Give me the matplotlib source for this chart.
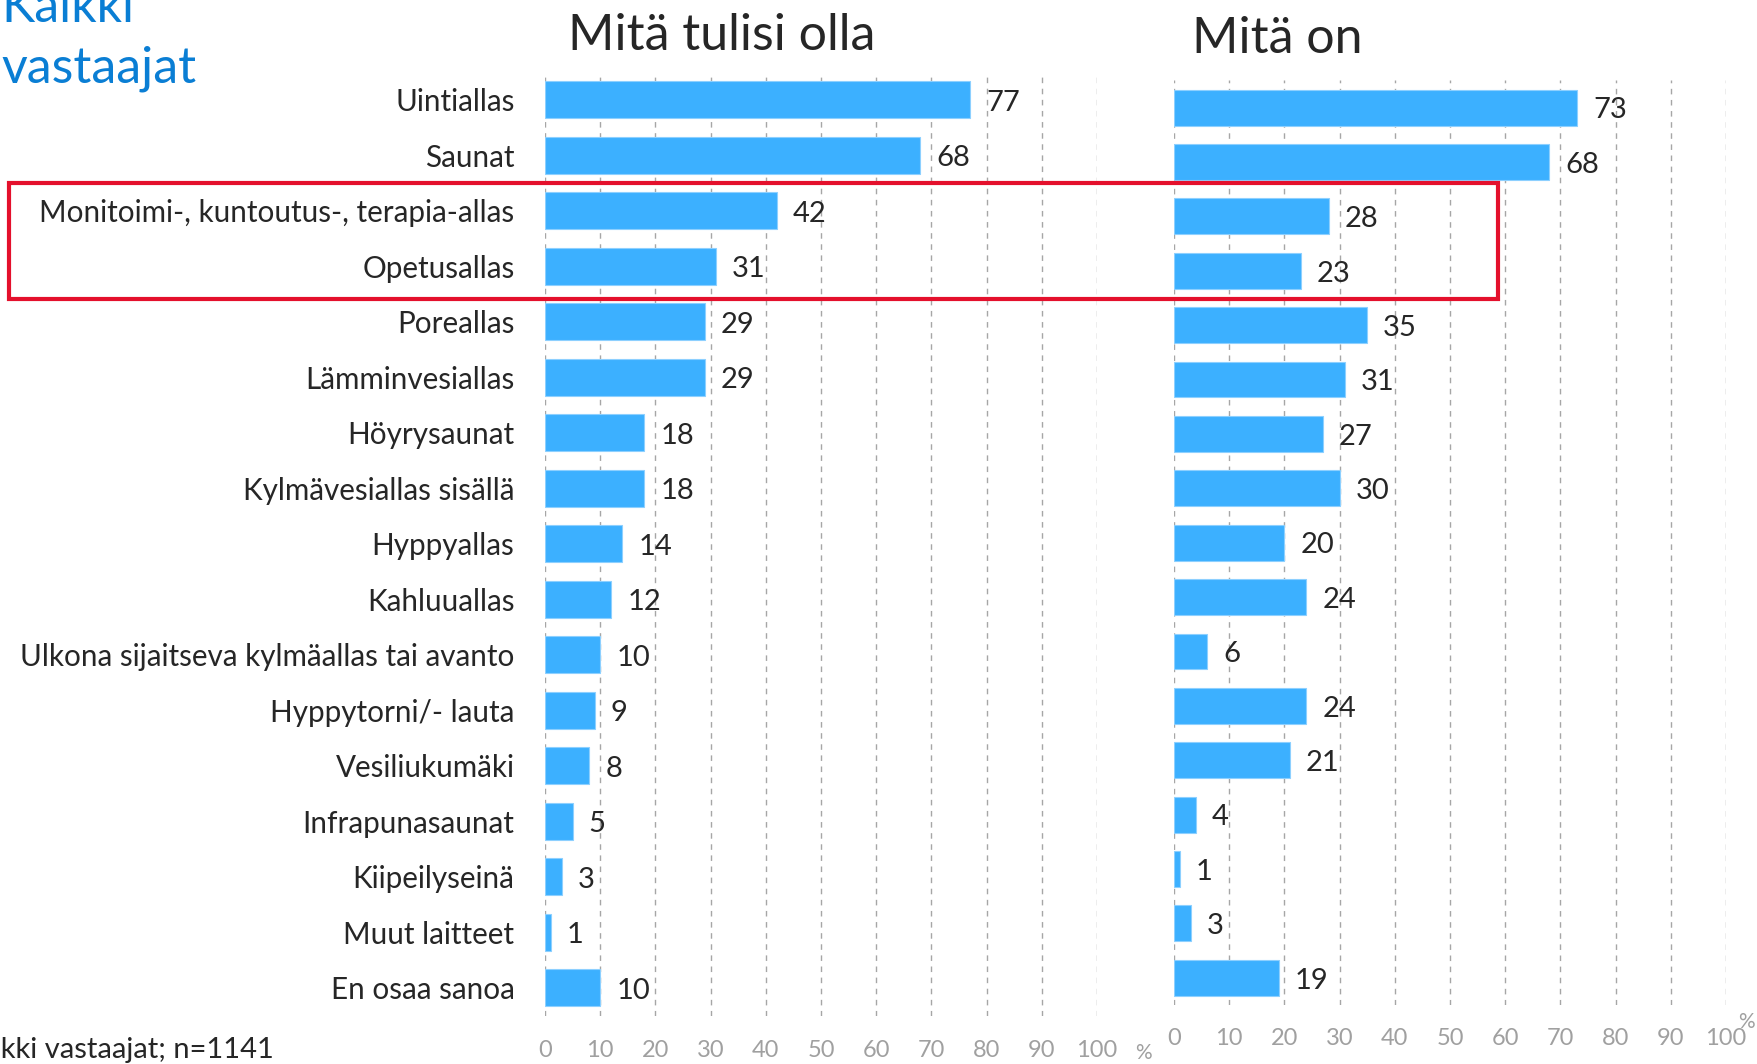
import matplotlib
matplotlib.use("Agg")
import matplotlib.pyplot as plt
from matplotlib.patches import Rectangle

plt.rcParams["font.family"] = ["Lato", "DejaVu Sans"]

# Data (%)
categories = [
    "Uintiallas",
    "Saunat",
    "Monitoimi-, kuntoutus-, terapia-allas",
    "Opetusallas",
    "Poreallas",
    "Lämminvesiallas",
    "Höyrysaunat",
    "Kylmävesiallas sisällä",
    "Hyppyallas",
    "Kahluuallas",
    "Ulkona sijaitseva kylmäallas tai avanto",
    "Hyppytorni/- lauta",
    "Vesiliukumäki",
    "Infrapunasaunat",
    "Kiipeilyseinä",
    "Muut laitteet",
    "En osaa sanoa",
]
should_be = [77, 68, 42, 31, 29, 29, 18, 18, 14, 12, 10, 9, 8, 5, 3, 1, 10]
current = [73, 68, 28, 23, 35, 31, 27, 30, 20, 24, 6, 24, 21, 4, 1, 3, 19]
x_ticks = [0, 10, 20, 30, 40, 50, 60, 70, 80, 90, 100]

title_left = "Mitä tulisi olla"
title_right = "Mitä on"
footnote = "Kaikki vastaajat; n=1141"

BAR = "#3CB0FF"
GRID = "#A6A6A6"
TEXT = "#262626"
TICK = "#A0A0A0"
BLUE = "#0A7ED4"

W, H = 1757, 1064
fig = plt.figure(figsize=(W / 100, H / 100), dpi=100)


def px_axes(x0, x1, y_top, y_bot):
    return fig.add_axes([x0 / W, 1 - y_bot / H, (x1 - x0) / W, (y_bot - y_top) / H])


def draw_panel(ax, values, show_labels, tick_pad):
    y = list(range(len(values)))
    ax.barh(y, values, height=0.66, color=BAR, edgecolor="#8DD0FF", linewidth=0.8, zorder=2)
    ax.set_xlim(0, 100)
    ax.set_ylim(len(values) - 0.5, -0.5)
    ax.set_xticks(x_ticks)
    ax.set_xticklabels([str(t) for t in x_ticks])
    ax.tick_params(axis="x", length=0, pad=tick_pad, labelsize=17, labelcolor=TICK)
    ax.set_yticks(y)
    if show_labels:
        ax.set_yticklabels(categories, fontsize=21.3, color=TEXT)
        ax.tick_params(axis="y", length=0, pad=22)
    else:
        ax.set_yticklabels([])
        ax.tick_params(axis="y", length=0)
    ax.grid(axis="x", color=GRID, linestyle=(0, (4, 4)), linewidth=1.0, zorder=0)
    ax.set_axisbelow(True)
    for s in ax.spines.values():
        s.set_visible(False)
    for yi, v in zip(y, values):
        ax.annotate(str(v), (v, yi), xytext=(11.5, -2), textcoords="offset points",
                    ha="left", va="center", fontsize=21, color=TEXT)


ax1 = px_axes(545, 1097, 72, 1015.5)
draw_panel(ax1, should_be, True, 17.5)

ax2 = px_axes(1174, 1726, 80.4, 1005)
draw_panel(ax2, current, False, 16.5)

# Titles
fig.text(722 / W, 1 - 50 / H, title_left, ha="center", va="baseline", fontsize=36, color=TEXT)
fig.text(1277 / W, 1 - 53 / H, title_right, ha="center", va="baseline", fontsize=36, color=TEXT)

# Group label at top left (first line partly outside the figure like in the original)
fig.text(1 / W, 1 - 22 / H, "Kaikki", ha="left", va="baseline", fontsize=36, color=BLUE)
fig.text(1 / W, 1 - 82 / H, "vastaajat", ha="left", va="baseline", fontsize=36, color=BLUE)

# Footnote, cut off at the left edge
fig.text(-40 / W, 1 - 1058 / H, footnote, ha="left", va="baseline", fontsize=21, color=TEXT)

# Percent signs next to the axes
fig.text(1143 / W, 1 - 1053 / H, "%", ha="center", va="center", fontsize=15, color=TICK)
fig.text(1746 / W, 1 - 1022 / H, "%", ha="center", va="center", fontsize=15, color=TICK)

# Red highlight box
fig.patches.append(Rectangle((9 / W, 1 - 299 / H), (1498 - 9) / W, (299 - 183) / H,
                             transform=fig.transFigure, fill=False,
                             edgecolor="#E4102C", linewidth=3, zorder=5))

fig.savefig("out.png", dpi=100)
